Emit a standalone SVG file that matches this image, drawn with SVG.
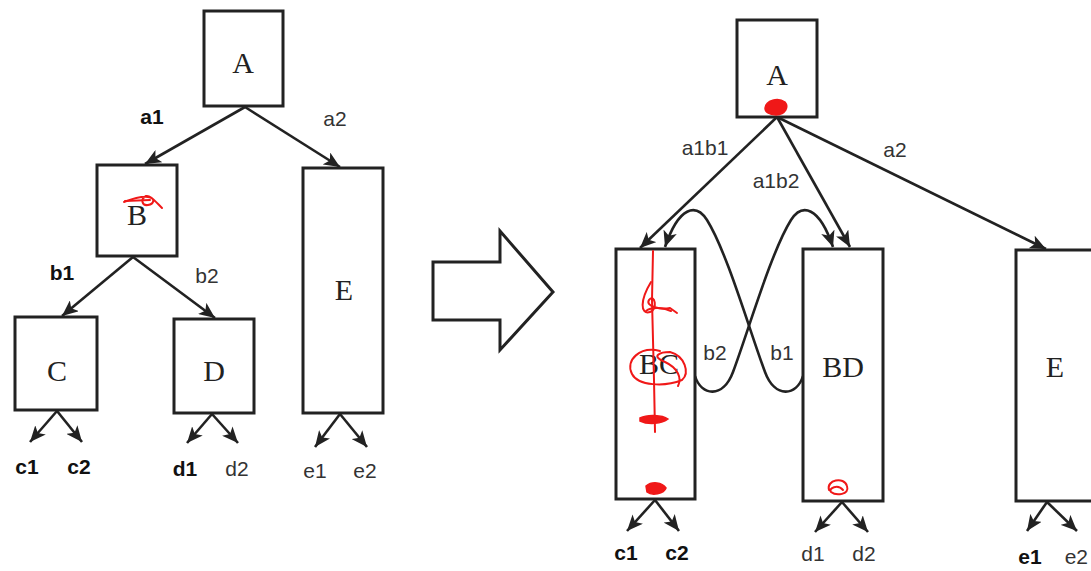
<svg xmlns="http://www.w3.org/2000/svg" width="1091" height="571" viewBox="0 0 1091 571">
  <style>
    .box { fill: #fff; stroke: #222; stroke-width: 3; }
    .node { font-family: "Liberation Serif", "Times New Roman", serif; font-size: 30px; fill: #222; text-anchor: middle; }
    .lbl { font-family: "Liberation Sans", Arial, sans-serif; font-size: 21px; fill: #333; text-anchor: middle; }
    .lbl.b { font-weight: bold; fill: #111; }
    .lbl.end { text-anchor: end; }
    .edge { fill: none; stroke: #222; stroke-width: 2.6; marker-end: url(#head); }
    .big { fill: #fff; stroke: #222; stroke-width: 3; stroke-linejoin: miter; }
    .ink { fill: none; stroke: #f01818; stroke-width: 2; stroke-linecap: round; stroke-linejoin: round; }
    .inkfill { fill: #f01818; stroke: #f01818; stroke-width: 1.5; }
  </style>
  <defs>
    <marker id="head" markerUnits="userSpaceOnUse" markerWidth="18" markerHeight="14" refX="16" refY="7" orient="auto">
      <path d="M0,0 L16,7 L0,14 L4,7 Z" fill="#222"/>
    </marker>
  </defs>

  <rect width="1091" height="571" fill="#fff"/>

  <!-- left tree: connectors -->
  <g id="left-connectors">
    <line class="edge" x1="245" y1="107" x2="145" y2="164"/>
    <line class="edge" x1="245" y1="107" x2="340" y2="167"/>
    <line class="edge" x1="133" y1="257" x2="62" y2="316"/>
    <line class="edge" x1="133" y1="257" x2="215" y2="318"/>
    <line class="edge" x1="57" y1="411" x2="30" y2="442"/>
    <line class="edge" x1="57" y1="411" x2="82" y2="442"/>
    <line class="edge" x1="212" y1="414" x2="187" y2="443"/>
    <line class="edge" x1="212" y1="414" x2="238" y2="443"/>
    <line class="edge" x1="340" y1="414" x2="315" y2="447"/>
    <line class="edge" x1="340" y1="414" x2="367" y2="447"/>
    <text class="lbl b" x="152" y="124">a1</text>
    <text class="lbl" x="335" y="126">a2</text>
    <text class="lbl b" x="62" y="280">b1</text>
    <text class="lbl" x="207" y="283">b2</text>
    <text class="lbl b" x="27" y="474">c1</text>
    <text class="lbl b" x="79" y="474">c2</text>
    <text class="lbl b" x="185" y="476">d1</text>
    <text class="lbl" x="237" y="476">d2</text>
    <text class="lbl" x="315" y="478">e1</text>
    <text class="lbl" x="365" y="478">e2</text>
  </g>

  <!-- left tree: nodes -->
  <g id="left-A">
    <rect class="box" x="204" y="11" width="79" height="95"/>
    <text class="node" x="243" y="73">A</text>
  </g>
  <g id="left-B">
    <rect class="box" x="97" y="165" width="80" height="91"/>
    <text class="node" x="137" y="225">B</text>
    <path class="ink" d="M124,202 C132,199 140,196 148,197 C156,198 154,204 148,205 C142,206 140,199 146,196 C150,195 154,200 162,208"/>
    <path class="ink" d="M125,201 L150,200"/>
  </g>
  <g id="left-C">
    <rect class="box" x="15" y="317" width="82" height="93"/>
    <text class="node" x="57" y="381">C</text>
  </g>
  <g id="left-D">
    <rect class="box" x="174" y="319" width="80" height="94"/>
    <text class="node" x="214" y="381">D</text>
  </g>
  <g id="left-E">
    <rect class="box" x="303" y="168" width="80" height="245"/>
    <text class="node" x="344" y="300">E</text>
  </g>

  <!-- block arrow between the two trees -->
  <g id="transform-arrow">
    <path class="big" d="M433,262 L500,262 L500,231 L553,292 L500,350 L500,320 L433,320 Z"/>
  </g>

  <!-- right tree: connectors -->
  <g id="right-connectors">
    <line class="edge" x1="777" y1="117" x2="640" y2="248"/>
    <line class="edge" x1="777" y1="117" x2="850" y2="247"/>
    <line class="edge" x1="777" y1="117" x2="1046" y2="249"/>
    <path class="edge" d="M803,376 C797,396 775,399 765,372 C750,332 727,252 707,220 C696,203 679,206 665,247"/>
    <path class="edge" d="M695,376 C701,396 723,399 733,372 C748,332 771,252 791,220 C802,203 819,206 833,247"/>
    <line class="edge" x1="655" y1="500" x2="627" y2="531"/>
    <line class="edge" x1="655" y1="500" x2="679" y2="531"/>
    <line class="edge" x1="842" y1="502" x2="815" y2="532"/>
    <line class="edge" x1="842" y1="502" x2="868" y2="532"/>
    <line class="edge" x1="1047" y1="502" x2="1027" y2="531"/>
    <line class="edge" x1="1047" y1="502" x2="1077" y2="531"/>
    <text class="lbl" x="705" y="155">a1b1</text>
    <text class="lbl" x="776" y="188">a1b2</text>
    <text class="lbl" x="895" y="157">a2</text>
    <text class="lbl" x="715" y="360">b2</text>
    <text class="lbl" x="782" y="360">b1</text>
    <text class="lbl b" x="626" y="560">c1</text>
    <text class="lbl b" x="677" y="560">c2</text>
    <text class="lbl" x="813" y="561">d1</text>
    <text class="lbl" x="864" y="561">d2</text>
    <text class="lbl b" x="1030" y="564">e1</text>
    <text class="lbl end" x="1088" y="564">e2</text>
  </g>

  <!-- right tree: nodes -->
  <g id="right-A">
    <rect class="box" x="737" y="20" width="80" height="97"/>
    <text class="node" x="777" y="85">A</text>
    <path class="inkfill" d="M765,108 C766,100 778,97 785,102 C789,107 786,114 776,115 C769,115 765,112 765,108 Z"/>
  </g>
  <g id="right-BC">
    <rect class="box" x="616" y="249" width="79" height="250"/>
    <text class="node" x="659" y="374">BC</text>
    <path class="ink" d="M653,251 L652,300 L654,380 L655,432"/>
    <path class="ink" d="M651,282 C640,300 640,315 650,312 C658,310 655,293 649,300 C645,306 660,310 670,308 L677,313"/>
    <path class="ink" d="M646,311 C652,306 665,308 671,311"/>
    <path class="ink" d="M660,351 C640,346 625,360 632,374 C638,386 665,387 682,380 C690,373 685,356 670,352 C660,352 650,356 665,362 C678,368 682,378 678,386"/>
    <path class="inkfill" d="M640,418 C648,414 662,415 668,419 C662,424 648,425 640,421 Z"/>
    <path class="inkfill" d="M646,486 C652,481 662,482 666,488 C664,494 652,496 647,492 Z"/>
  </g>
  <g id="right-BD">
    <rect class="box" x="803" y="249" width="80" height="252"/>
    <text class="node" x="843" y="377">BD</text>
    <path class="ink" d="M829,490 C826,480 844,476 847,486 C850,495 836,496 831,492 C828,488 838,484 843,490"/>
  </g>
  <g id="right-E">
    <rect class="box" x="1016" y="250" width="85" height="251"/>
    <text class="node" x="1055" y="377">E</text>
  </g>
</svg>
